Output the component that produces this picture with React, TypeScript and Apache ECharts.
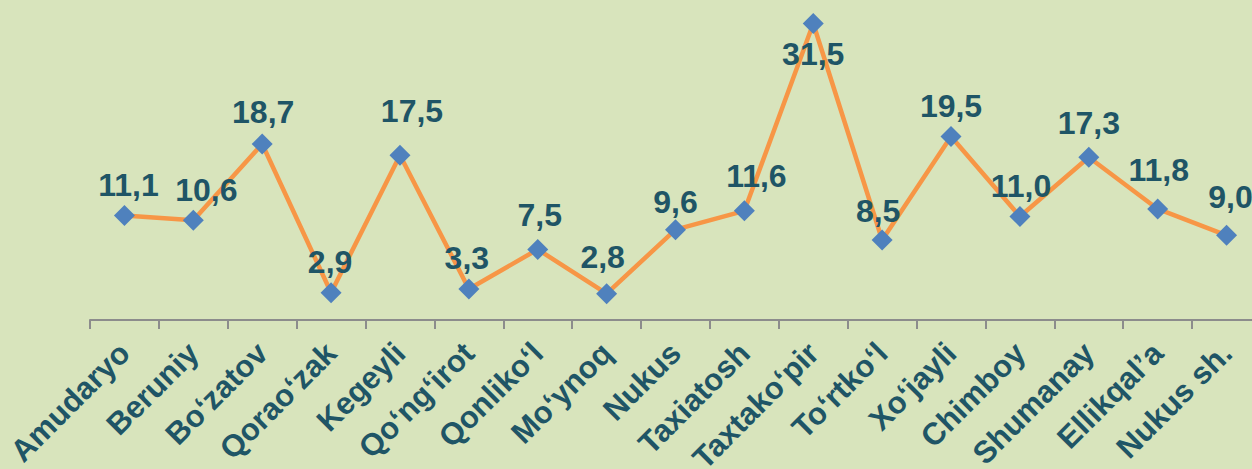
import React, { useEffect, useRef } from "react";
import * as echarts from "echarts";

const categories = [
  "Amudaryo", "Beruniy", "Bo\u2018zatov", "Qorao\u2018zak", "Kegeyli", "Qo\u2018ng\u2018irot",
  "Qonliko\u2018l", "Mo\u2018ynoq", "Nukus", "Taxiatosh", "Taxtako\u2018pir", "To\u2018rtko\u2018l",
  "Xo\u2018jayli", "Chimboy", "Shumanay", "Ellikqal\u2019a", "Nukus sh.",
];
const values = [11.1, 10.6, 18.7, 2.9, 17.5, 3.3, 7.5, 2.8, 9.6, 11.6, 31.5, 8.5, 19.5, 11.0, 17.3, 11.8, 9.0];
const labelOffsets: [number, number][] = [
  [4, 0], [13, 0], [1, -2], [-1, 0], [12, -14], [-2, 0], [2, -4], [-4, -6], [0, 3],
  [12, -4], [0, 0], [-4, 1], [0, 0], [1, 0], [0, -4], [1, -8], [4, -8],
];
const bottomLabelIdx = [10];

export default function App() {
  const ref = useRef<HTMLDivElement>(null);
  useEffect(() => {
    if (!ref.current) return;
    const chart = echarts.init(ref.current, null, { renderer: "svg" });
    const labelColor = "#1f5566";
    chart.setOption({
      animation: false,
      backgroundColor: "#d8e4bc",
      grid: { left: 90, right: -9, top: 0, bottom: 149, containLabel: false, outerBoundsMode: "none" },
      xAxis: {
        type: "category",
        data: categories,
        boundaryGap: true,
        axisLine: { show: true, lineStyle: { color: "#8c8c8c", width: 2 } },
        axisTick: { show: true, alignWithLabel: false, length: 9, inside: false, lineStyle: { color: "#8c8c8c", width: 2 } },
        axisLabel: {
          rotate: 45,
          interval: 0,
          margin: 28,
          color: labelColor,
          fontSize: 31,
          fontWeight: "bold",
          fontFamily: "Liberation Sans, Arial, sans-serif",
        },
      },
      yAxis: {
        type: "value",
        min: 0,
        max: 34,
        show: false,
        splitLine: { show: false },
      },
      series: [
        {
          type: "line",
          data: values.map((v, i) => ({
            value: v,
            label: {
              position: bottomLabelIdx.includes(i) ? "bottom" : "top",
              offset: labelOffsets[i],
            },
          })),
          symbol: "diamond",
          symbolSize: 21,
          itemStyle: { color: "#4f81bd" },
          lineStyle: { color: "#f79646", width: 4.5 },
          label: {
            show: true,
            distance: 4,
            color: labelColor,
            fontSize: 32,
            fontWeight: "bold",
            fontFamily: "Liberation Sans, Arial, sans-serif",
            formatter: (p: any) => Number(p.value).toFixed(1).replace(".", ","),
          },
          z: 3,
        },
      ],
    });
    return () => chart.dispose();
  }, []);
  return (
    <div
      ref={ref}
      style={{ position: "absolute", left: 0, top: 0, width: 1252, height: 469 }}
    />
  );
}
